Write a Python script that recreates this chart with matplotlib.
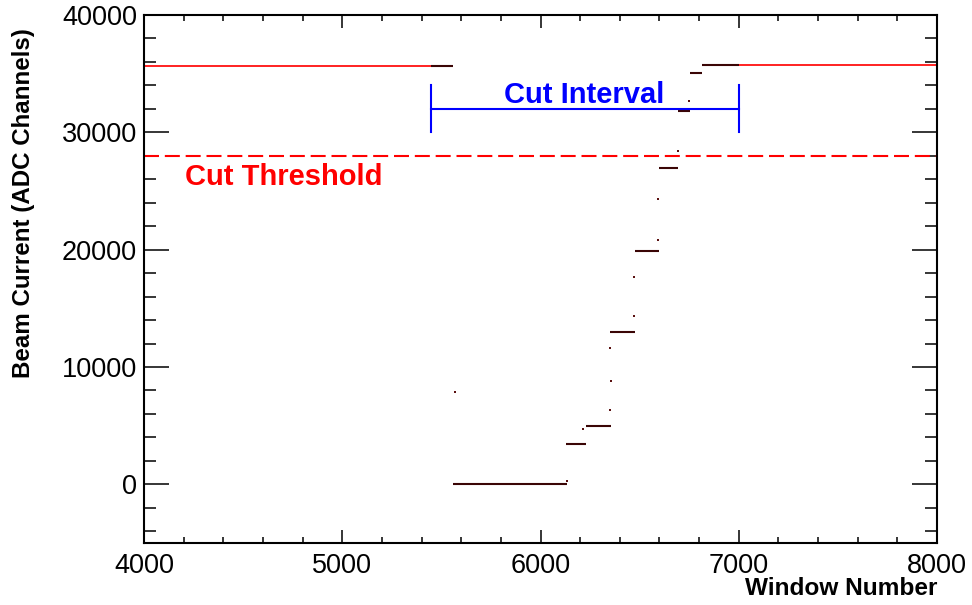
import matplotlib
matplotlib.use('Agg')
import matplotlib.pyplot as plt
from matplotlib.ticker import MultipleLocator

plt.rcParams['font.family'] = ['Liberation Sans', 'DejaVu Sans']

# beam current plateaus outside the cut (red)
red_start = [4000, 7000]
red_end = [5450, 8000]
red_level = [35660, 35720]

# plateaus inside the cut interval (dark)
step_start = [5450, 5559, 6129, 6230, 6351, 6477, 6598, 6694, 6754, 6815]
step_end = [5559, 6134, 6230, 6354, 6477, 6598, 6694, 6752, 6815, 7000]
step_level = [35640, 0, 3460, 4960, 13000, 19850, 26980, 31830, 35090, 35700]

# single windows on the ramp between plateaus
ramp_x = [5569, 6134, 6216, 6351, 6354, 6351, 6472, 6472, 6593, 6593, 6694, 6749]
ramp_y = [7830, 255, 4740, 6300, 8830, 11630, 14380, 17700, 20850, 24340, 28430, 32680]

cut_threshold = 28000
cut_lo, cut_hi = 5450, 7000
cut_y = 32000
cut_bar = 2000

fig = plt.figure(figsize=(9.72, 6.05), dpi=100)
ax = fig.add_axes([144 / 972, 1 - 543 / 605, (937 - 144) / 972, (543 - 15) / 605])

ax.hlines(red_level, red_start, red_end, colors='#ff1010', lw=1.3)
ax.hlines(step_level, step_start, step_end, colors='#3a0505', lw=1.5)
ax.plot(ramp_x, ramp_y, 's', color='#5a1010', ms=1.6, mew=0)

# threshold line and label
ax.axhline(cut_threshold, color='#ff0000', lw=1.5, dashes=(7.2, 2.8))
ax.text(4207, 25530, 'Cut Threshold', color='#ff0000', fontsize=21,
        fontweight='bold', ha='left', va='baseline')

# cut interval bracket
ax.plot([cut_lo, cut_hi], [cut_y, cut_y], color='#0000ff', lw=1.5)
ax.plot([cut_lo, cut_lo], [cut_y - cut_bar, cut_y + cut_bar], color='#0000ff', lw=1.5)
ax.plot([cut_hi, cut_hi], [cut_y - cut_bar, cut_y + cut_bar], color='#0000ff', lw=1.5)
ax.text((cut_lo + cut_hi) / 2 - 3, 32510, 'Cut Interval', color='#0000ff',
        fontsize=21, fontweight='bold', ha='center', va='baseline')

ax.set_xlim(4000, 8000)
ax.set_ylim(-5000, 40000)
ax.xaxis.set_major_locator(MultipleLocator(1000))
ax.xaxis.set_minor_locator(MultipleLocator(200))
ax.yaxis.set_major_locator(MultipleLocator(10000))
ax.yaxis.set_minor_locator(MultipleLocator(2000))

for s in ax.spines.values():
    s.set_linewidth(1.5)

ax.tick_params(which='both', direction='in', top=True, right=True, width=1.1)
ax.tick_params(axis='x', which='major', length=9.5, labelsize=19.5, pad=7)
ax.tick_params(axis='x', which='minor', length=4.5)
ax.tick_params(axis='y', which='major', length=18, labelsize=19.5, pad=5)
ax.tick_params(axis='y', which='minor', length=8.6)

ax.set_xlabel('Window Number', fontsize=17.6, fontweight='bold', ha='right', va='top')
ax.xaxis.set_label_coords(1.0, -0.064)
ax.set_ylabel('Beam Current (ADC Channels)', fontsize=17.4, fontweight='bold', ha='right')
ax.yaxis.set_label_coords(-0.138, 0.975)

fig.savefig('out.png', dpi=100)
